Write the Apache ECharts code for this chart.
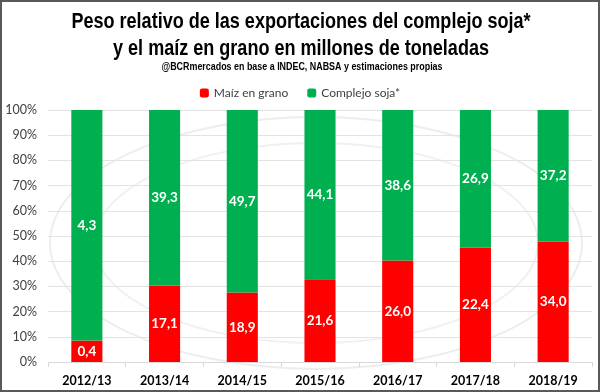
<!DOCTYPE html>
<html><head><meta charset="utf-8">
<script src="https://cdn.jsdelivr.net/npm/echarts@6/dist/echarts.min.js"></script>
<style>html,body{margin:0;padding:0;background:#fff}#c{width:600px;height:392px;box-sizing:border-box;border:2px solid #595959}</style>
</head><body><div id="c"></div>
<script>
const categories = ['2012/13','2013/14','2014/15','2015/16','2016/17','2017/18','2018/19'];
const maiz = [0.4,17.1,18.9,21.6,26.0,22.4,34.0];
const soja = [4.3,39.3,49.7,44.1,38.6,26.9,37.2];
const yTicks = ['0%','10%','20%','30%','40%','50%','60%','70%','80%','90%','100%'];
const titleLines = ['Peso relativo de las exportaciones del complejo soja*','y el maíz en grano en millones de toneladas'];
const subtitle = '@BCRmercados en base a INDEC, NABSA y estimaciones propias';

const totals = maiz.map((v,i)=>v+soja[i]);
const fmt = v => v.toFixed(1).replace('.',',');
const mk = (arr) => arr.map((v,i)=>({value: v/totals[i]*100, raw: v}));
const FONT = 'Lato, Open Sans, sans-serif';

const chart = echarts.init(document.getElementById('c'), null, {renderer:'canvas'});
chart.setOption({
  animation:false,
  graphic:[
    {type:'ellipse', z:-10, silent:true, shape:{cx:314, cy:241, rx:266, ry:126},
     style:{fill:'none', stroke:'#ededed', lineWidth:2}},
    {type:'ellipse', z:-10, silent:true, shape:{cx:314, cy:241, rx:222, ry:100},
     style:{fill:'none', stroke:'#f0f0f0', lineWidth:2}},
    {type:'text', x:299, y:20, scaleX:0.82, z:10,
     style:{text:titleLines[0], textAlign:'center', textVerticalAlign:'middle',
       font:'bold 22px "Liberation Sans", Arial, sans-serif', fill:'#000'}},
    {type:'text', x:299, y:47, scaleX:0.82, z:10,
     style:{text:titleLines[1], textAlign:'center', textVerticalAlign:'middle',
       font:'bold 22px "Liberation Sans", Arial, sans-serif', fill:'#000'}},
    {type:'text', x:300, y:65, scaleX:0.81, z:10,
     style:{text:subtitle, textAlign:'center', textVerticalAlign:'middle',
       font:'bold 11px "Liberation Sans", Arial, sans-serif', fill:'#000'}}
  ],
  legend:{top:80, left:'center', itemWidth:9, itemHeight:9, itemGap:19,
    textStyle:{fontFamily:FONT, fontSize:12, color:'#404040'},
    data:['Maíz en grano','Complejo soja*']},
  grid:{left:46, right:6, top:108, bottom:28, containLabel:false},
  xAxis:{type:'category', data:categories,
    axisLine:{lineStyle:{color:'#d9d9d9'}}, axisTick:{show:true, length:5, lineStyle:{color:'#d9d9d9'}},
    axisLabel:{color:'#000', fontWeight:'bold', fontSize:12.5, fontFamily:FONT, margin:12}},
  yAxis:{type:'value', min:0, max:100, interval:10,
    axisLabel:{formatter:v=>yTicks[Math.round(v/10)], color:'#404040', fontSize:12.5, fontFamily:FONT, margin:11},
    splitLine:{lineStyle:{color:'#e3e3e3'}}, axisLine:{show:false}, axisTick:{show:false}},
  series:[
    {name:'Maíz en grano', type:'bar', stack:'a', barWidth:'40%', data:mk(maiz),
     itemStyle:{color:'#FF0000'},
     label:{show:true, position:'inside', color:'#fff', fontWeight:'bold', fontSize:13.5, fontFamily:FONT,
       formatter:p=>fmt(p.data.raw)}},
    {name:'Complejo soja*', type:'bar', stack:'a', barWidth:'40%', data:mk(soja),
     itemStyle:{color:'#00B050'},
     label:{show:true, position:'inside', color:'#fff', fontWeight:'bold', fontSize:13.5, fontFamily:FONT,
       formatter:p=>fmt(p.data.raw)}}
  ]
});
</script></body></html>
